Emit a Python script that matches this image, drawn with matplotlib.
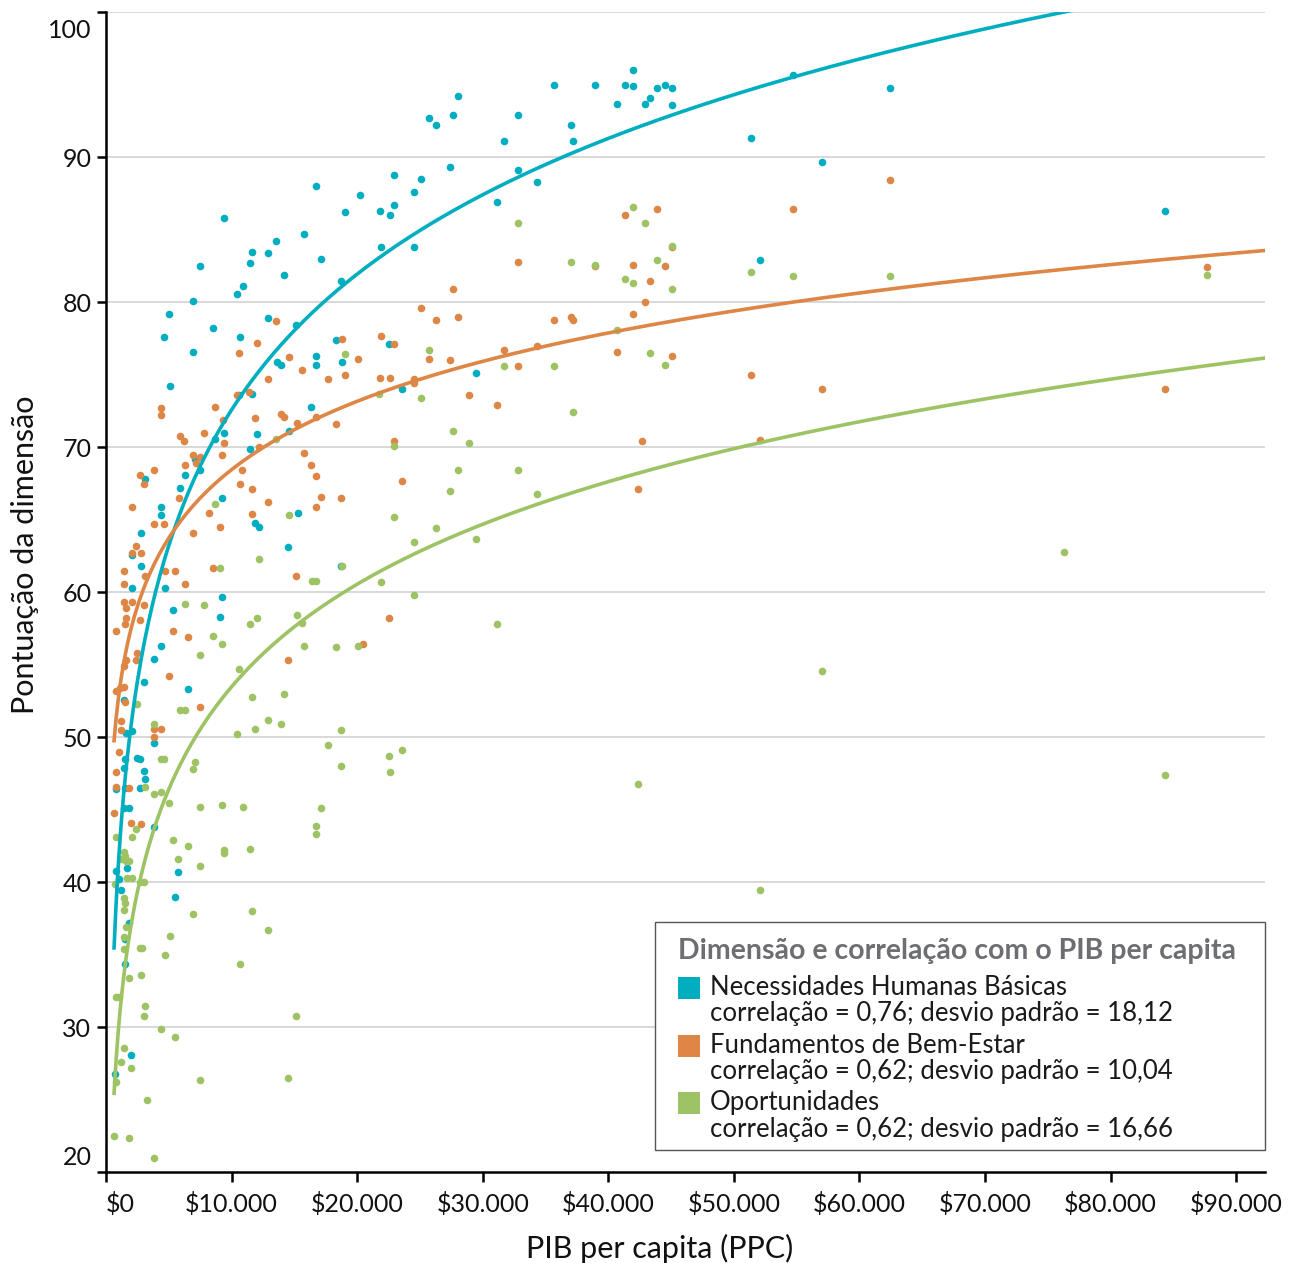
import numpy as np
import matplotlib
matplotlib.use("Agg")
import matplotlib.pyplot as plt
import matplotlib.transforms as mtransforms
from matplotlib.patches import Rectangle

plt.rcParams['font.family'] = ['Lato', 'DejaVu Sans']

# ---------------- data (PIB per capita in thousands of US$, score) ----------------
nhb_pib = [54.7, 62.4, 51.4, 57.0, 52.1, 84.3, 42.0, 35.7, 38.9, 41.3, 42.0, 43.9, 44.5, 45.1,
           40.7, 42.9, 43.3, 45.1, 28.0, 25.7, 26.3, 27.6, 32.8, 37.0, 31.7, 37.2, 27.4, 24.5,
           25.1, 32.8, 34.3, 31.1, 24.5, 29.5,
           22.9, 16.7, 20.2, 19.0, 21.8, 22.6, 22.9, 15.8, 13.5, 12.9, 11.6, 11.5, 14.2, 17.1,
           18.7, 21.9, 12.9, 15.1, 18.3, 22.5, 16.7, 16.7, 18.8, 13.6, 13.9, 11.6, 16.3, 12.0,
           11.5, 14.6, 23.6, 15.3, 11.9, 12.2, 14.5, 18.7,
           9.4, 7.5, 10.9, 10.4, 6.9, 5.0, 4.6, 8.5, 10.7, 6.9, 5.1, 10.6, 8.7, 9.4, 7.1, 6.3,
           5.9, 7.5, 3.1, 9.2, 4.4, 4.4, 2.8, 2.1,
           2.8, 2.1, 4.7, 5.3, 9.2, 9.1, 4.4, 3.8, 3.0, 6.5, 1.4, 1.6, 2.1, 3.8, 1.5, 1.4, 2.5,
           2.7, 3.0, 3.1, 0.8, 1.5, 2.7, 1.4, 1.8, 3.8, 5.7, 1.7, 0.8, 1.0, 1.2, 5.5, 1.8, 1.5,
           1.5, 2.0, 0.7]
nhb_score = [95.7, 94.8, 91.3, 89.7, 82.9, 86.3, 96.0, 95.0, 95.0, 95.0, 94.9, 94.8, 95.0, 94.8,
             93.7, 93.7, 94.1, 93.6, 94.2, 92.7, 92.2, 92.9, 92.9, 92.2, 91.1, 91.1, 89.3, 87.6,
             88.5, 89.1, 88.3, 86.9, 83.8, 75.1,
             88.8, 88.0, 87.4, 86.2, 86.3, 86.0, 86.7, 84.7, 84.2, 83.4, 83.5, 82.7, 81.9, 83.0,
             81.5, 83.8, 78.9, 78.4, 77.4, 77.1, 76.3, 75.7, 75.9, 75.9, 75.7, 73.7, 72.8, 70.9,
             69.9, 71.1, 74.0, 65.5, 64.8, 64.5, 63.1, 61.8,
             85.8, 82.5, 81.1, 80.6, 80.1, 79.2, 77.6, 78.2, 77.6, 76.6, 74.2, 73.6, 70.6, 71.0,
             69.2, 68.1, 67.2, 68.4, 67.8, 66.5, 65.9, 65.3, 64.1, 62.6,
             61.8, 60.3, 60.3, 58.8, 59.7, 58.3, 56.3, 55.4, 53.8, 53.3, 52.6, 50.3, 50.4, 49.6,
             48.5, 47.9, 48.6, 48.5, 47.7, 47.1, 46.4, 46.5, 46.5, 45.1, 45.1, 43.8, 40.7, 41.0,
             40.8, 40.2, 39.5, 39.0, 37.2, 36.1, 34.4, 28.1, 26.8]

fbe_pib = [62.4, 54.7, 51.4, 57.0, 52.1, 84.3, 87.7,
           41.3, 43.9, 32.8, 38.9, 42.0, 44.5, 45.1, 43.3, 27.6, 25.1, 26.3, 28.0, 35.7, 37.0,
           37.2, 42.9, 42.0, 40.7, 45.1, 25.7, 27.4, 31.7, 34.3, 32.8, 24.5, 24.5, 28.9, 31.1,
           42.7, 42.4,
           13.5, 12.0, 18.8, 21.9, 22.9, 14.6, 15.6, 12.9, 17.7, 19.0, 20.1, 21.8, 22.6, 11.9,
           13.9, 14.2, 15.2, 16.7, 18.3, 12.2, 15.8, 16.3, 16.7, 22.9, 23.6, 11.6, 12.9, 17.1,
           18.7, 16.7, 11.6, 15.1, 22.5, 20.5, 14.5,
           10.6, 10.4, 11.4, 4.4, 4.4, 8.7, 9.3, 7.8, 5.9, 6.2, 9.4, 6.9, 7.5, 6.3, 7.2, 9.2,
           3.8, 2.7, 3.0, 10.8, 5.8, 10.7, 2.1, 3.8, 4.6, 8.2, 9.1, 6.9, 2.4, 2.8, 2.1,
           1.4, 3.1, 4.7, 5.5, 6.3, 8.5, 1.4, 1.4, 2.1, 1.6, 3.0, 1.6, 2.7, 0.8, 1.5, 5.3, 6.5,
           2.5, 2.4, 1.6, 1.4, 5.0, 1.4, 0.8, 1.1, 1.5, 7.5, 1.2, 1.2, 3.8, 4.4, 3.8, 1.0, 0.8,
           0.8, 1.8, 0.6, 2.0, 2.8]
fbe_score = [88.4, 86.4, 75.0, 74.0, 70.5, 74.0, 82.4,
             86.0, 86.4, 82.8, 82.5, 82.6, 82.5, 83.8, 81.5, 80.9, 79.6, 78.8, 79.0, 78.8, 79.0,
             78.8, 80.0, 79.2, 76.6, 76.3, 76.1, 76.0, 76.7, 77.0, 75.6, 74.7, 74.4, 73.6, 72.9,
             70.4, 67.1,
             78.7, 77.2, 77.5, 77.7, 77.1, 76.2, 75.3, 74.7, 74.7, 75.0, 76.1, 74.8, 74.8, 72.0,
             72.3, 72.1, 71.7, 72.1, 71.6, 70.0, 69.6, 68.8, 68.0, 70.4, 67.7, 67.1, 66.2, 66.6,
             66.5, 65.9, 65.4, 61.1, 58.2, 56.4, 55.3,
             76.5, 73.6, 73.8, 72.7, 72.2, 72.8, 71.9, 71.0, 70.8, 70.4, 70.3, 69.5, 69.3, 68.8,
             68.9, 69.5, 68.4, 68.1, 67.5, 68.4, 66.5, 67.5, 65.9, 64.7, 64.7, 65.5, 64.5, 64.1,
             63.2, 62.7, 62.7,
             61.5, 61.1, 61.5, 61.5, 60.6, 61.7, 60.6, 59.3, 59.3, 58.9, 59.1, 58.2, 58.1, 57.3,
             57.8, 57.3, 56.9, 55.8, 55.3, 55.3, 54.9, 54.2, 53.5, 53.2, 53.4, 52.4, 52.1, 51.1,
             50.5, 50.6, 50.6, 50.0, 49.0, 47.6, 46.6, 46.5, 44.8, 44.1, 44.0]

opo_pib = [51.4, 54.7, 62.4, 87.7, 76.3, 57.0, 84.3, 52.1,
           42.0, 42.9, 32.8, 45.1, 37.0, 38.9, 43.9, 41.3, 42.0, 45.1, 40.7, 25.7, 43.3, 44.5,
           31.7, 35.7, 25.1, 37.2, 27.6, 28.9,
           28.0, 32.8, 27.4, 34.3, 26.3, 24.5, 29.5, 24.5, 31.1, 42.4,
           19.0, 21.7, 13.5, 22.9, 14.6, 22.9, 12.2, 18.8,
           16.4, 16.7, 21.9, 11.5, 12.0, 15.2, 15.6, 15.8, 18.3, 20.1, 11.6, 14.2, 11.9, 12.9,
           13.9, 18.7, 17.7, 22.5, 23.6, 18.7, 22.6, 17.1, 16.7, 16.7, 11.5, 11.6, 12.9, 15.1,
           14.5,
           8.7, 9.1, 6.3, 7.8, 8.5, 9.2, 7.5, 10.6, 2.5, 5.9, 6.3, 10.4, 3.8, 4.4, 4.6, 7.1,
           6.9, 3.1, 3.8, 4.4, 5.0, 7.5, 9.2, 10.9, 2.4, 0.8, 2.1, 5.3, 6.5, 5.7, 7.5, 9.4,
           9.4, 1.4, 1.5, 1.6, 1.2, 1.8, 1.7, 2.1, 0.7, 2.7, 3.0, 1.4, 1.5, 6.9, 1.4, 1.6, 1.4,
           5.1, 4.7, 2.7, 2.9, 1.4, 10.7, 1.8, 2.8, 0.8, 1.0, 3.1, 3.0, 4.4, 5.5, 1.4, 1.2, 2.0,
           7.5, 0.8, 3.3, 0.6, 1.8, 3.8]
opo_score = [82.1, 81.8, 81.8, 81.9, 62.8, 54.6, 47.4, 39.5,
             86.6, 85.5, 85.5, 83.9, 82.8, 82.6, 82.9, 81.6, 81.3, 80.9, 78.1, 76.7, 76.5, 75.7,
             75.6, 75.6, 73.4, 72.4, 71.1, 70.3,
             68.4, 68.4, 67.0, 66.8, 64.4, 63.5, 63.7, 59.8, 57.8, 46.8,
             76.4, 73.7, 70.6, 70.1, 65.3, 65.2, 62.3, 61.8,
             60.8, 60.8, 60.7, 57.8, 58.2, 58.4, 57.9, 56.3, 56.2, 56.3, 52.8, 53.0, 50.6, 51.2,
             50.9, 50.5, 49.5, 48.7, 49.1, 48.0, 47.6, 45.1, 43.9, 43.3, 42.3, 38.0, 36.7, 30.8,
             26.5,
             66.1, 61.7, 59.2, 59.1, 57.0, 56.4, 55.7, 54.7, 52.3, 51.9, 51.9, 50.2, 50.9, 48.5,
             48.5, 48.3, 47.8, 46.6, 46.1, 46.2, 45.5, 45.2, 45.3, 45.2, 43.7, 43.1, 43.1, 42.9,
             42.5, 41.6, 41.1, 42.2, 42.0, 42.1, 41.8, 41.5, 41.6, 41.5, 40.3, 40.3, 39.9, 40.0,
             40.0, 38.9, 38.6, 37.8, 38.1, 36.9, 36.2, 36.3, 35.0, 35.5, 35.5, 35.4, 34.4, 33.4,
             33.6, 32.1, 32.1, 31.5, 30.8, 29.9, 29.3, 28.6, 27.6, 27.2, 26.4, 26.2, 25.0, 22.5,
             22.4, 21.0]

series_names = ["Necessidades Humanas Básicas", "Fundamentos de Bem-Estar", "Oportunidades"]
series_stats = ["correlação = 0,76; desvio padrão = 18,12",
                "correlação = 0,62; desvio padrão = 10,04",
                "correlação = 0,62; desvio padrão = 16,66"]
# logarithmic trend: score = a + b * ln(PIB in thousands)
trend_a = [41.5, 52.8, 30.0]
trend_b = [13.5, 6.8, 10.2]
trend_pib_min = 0.64

x_ticks = [0, 10, 20, 30, 40, 50, 60, 70, 80, 90]
x_tick_labels = ["$0", "$10.000", "$20.000", "$30.000", "$40.000", "$50.000",
                 "$60.000", "$70.000", "$80.000", "$90.000"]
y_ticks = [20, 30, 40, 50, 60, 70, 80, 90, 100]

colors = ["#00AEC0", "#DD8645", "#9DC364"]

# ---------------- figure ----------------
fig = plt.figure(figsize=(12.93, 12.63), dpi=100)
ax = fig.add_axes([0.0820, 0.0718, 0.8964, 0.9185])
ax.set_xlim(0, 92.3)
ax.set_ylim(20, 100)

ax.set_yticks(y_ticks)
ax.set_xticks(x_ticks)
ax.set_xticklabels(x_tick_labels)
ax.tick_params(axis='both', labelsize=18, color='black', width=1.8, labelcolor='#111111')
ax.tick_params(axis='x', length=7, pad=7)
ax.tick_params(axis='y', length=6.5, pad=4)
ylabels = ax.get_yticklabels()
ylabels[0].set_transform(ylabels[0].get_transform() +
                         mtransforms.ScaledTranslation(0, 0.17, fig.dpi_scale_trans))
ylabels[-1].set_transform(ylabels[-1].get_transform() +
                          mtransforms.ScaledTranslation(0, -0.16, fig.dpi_scale_trans))
ax.get_xticklabels()[0].set_ha('left')

for s in ['top', 'right']:
    ax.spines[s].set_visible(False)
for s in ['left', 'bottom']:
    ax.spines[s].set_linewidth(1.8)
    ax.spines[s].set_color('black')

for yv in y_ticks[1:]:
    ax.axhline(yv, color='#d6d6d6', lw=1.3, zorder=1)

xs = [nhb_pib, fbe_pib, opo_pib]
ys = [nhb_score, fbe_score, opo_score]
for i in range(3):
    ax.scatter(xs[i], ys[i], s=30, color=colors[i], linewidths=0, zorder=3 + i * 0.1)

xx = np.linspace(trend_pib_min, 92.3, 600)
for i in range(3):
    ax.plot(xx, trend_a[i] + trend_b[i] * np.log(xx), color=colors[i], lw=2.6, zorder=4)

fig.text(25 / 1293, 1 - 555 / 1263, "Pontuação da dimensão", rotation=90,
         ha='center', va='center', fontsize=22, color='#111111')
fig.text(660 / 1293, 1 - 1248 / 1263, "PIB per capita (PPC)", ha='center', va='center',
         fontsize=22, color='#111111')

# ---------------- legend ----------------
T = ax.transAxes
ax.add_patch(Rectangle((0.4737, 0.0192), 0.5263, 0.1966, transform=T, facecolor='white',
                       edgecolor='#555555', lw=1.0, zorder=6, clip_on=False))
ax.text(0.4935, 0.1908, "Dimensão e correlação com o PIB per capita", transform=T,
        ha='left', va='center', fontsize=20.5, fontweight='bold', color='#6D6E71', zorder=7)
line1_y = [0.1597, 0.1097, 0.0606]
line2_y = [0.1373, 0.0873, 0.0373]
for i in range(3):
    ax.add_patch(Rectangle((0.4935, line1_y[i] - 0.0105), 0.019, 0.019, transform=T,
                           facecolor=colors[i], edgecolor='none', zorder=7, clip_on=False))
    ax.text(0.5211, line1_y[i], series_names[i], transform=T, ha='left', va='center',
            fontsize=18.5, color='#1a1a1a', zorder=7)
    ax.text(0.5211, line2_y[i], series_stats[i], transform=T, ha='left', va='center',
            fontsize=18.5, color='#1a1a1a', zorder=7)

fig.savefig("out.png", dpi=100)
